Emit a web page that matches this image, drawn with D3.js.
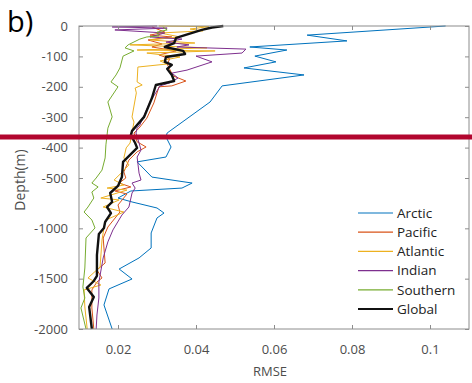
<!DOCTYPE html>
<html lang="en">

<head>
    <meta charset="UTF-8" />
    <title>RMSE by depth</title>
    <script src="https://d3js.org/d3.v7.js"></script>
    <style>
        body { margin: 0; background: white; }
        text { font-family: "Open Sans", sans-serif; }
    </style>
</head>

<body>
    <script>
        var w = 472;
        var h = 383;

        // depth (m) and RMSE for each basin
        var arcticDepth = [0, -30, -49, -69, -79, -99, -118, -138, -161, -197, -250, -352, -365, -398, -431, -447, -497, -550, -600, -629, -699, -738, -798, -848, -897, -1046, -1195, -1294, -1404, -1503, -1602, -1761, -2000];
        var arcticRmse = [0.104, 0.0685, 0.0787, 0.0538, 0.0633, 0.0551, 0.0605, 0.0523, 0.0677, 0.0467, 0.0436, 0.0326, 0.0323, 0.0336, 0.0323, 0.0249, 0.0287, 0.039, 0.0364, 0.0233, 0.020, 0.0236, 0.030, 0.0318, 0.030, 0.0285, 0.0285, 0.0254, 0.0203, 0.0236, 0.0177, 0.0164, 0.0185];

        var pacificDepth = [-3, -20, -30, -36, -46, -59, -69, -82, -95, -108, -125, -164, -181, -197, -200, -253, -303, -336, -352, -381, -398, -414, -441, -480, -500, -550, -589, -629, -659, -768, -838, -987, -1096, -1344, -1414, -1493, -1533, -1612, -1791, -2000];
        var pacificRmse = [0.0287, 0.032, 0.0282, 0.0338, 0.0277, 0.0313, 0.0287, 0.0349, 0.0305, 0.0333, 0.0326, 0.0341, 0.0374, 0.0338, 0.0305, 0.0292, 0.0274, 0.0254, 0.0241, 0.0249, 0.0272, 0.0249, 0.0228, 0.0215, 0.022, 0.0203, 0.0233, 0.0192, 0.0223, 0.020, 0.0205, 0.0174, 0.0162, 0.0167, 0.0146, 0.0159, 0.0146, 0.0133, 0.0133, 0.0138];

        var atlanticDepth = [0, -2, -10, -16, -23, -36, -46, -56, -62, -72, -79, -82, -89, -102, -115, -125, -135, -184, -194, -204, -220, -299, -316, -349, -385, -401, -434, -457, -484, -520, -570, -600, -620, -699, -718, -788, -838, -917, -996, -1115, -1384, -1493, -1563, -1612, -1781, -2000];
        var atlanticRmse = [0.0305, 0.0433, 0.0385, 0.0418, 0.0308, 0.0359, 0.0282, 0.0397, 0.0231, 0.0428, 0.0249, 0.0449, 0.0274, 0.0359, 0.0308, 0.0326, 0.0251, 0.0249, 0.0262, 0.0244, 0.0247, 0.0236, 0.0241, 0.0236, 0.0231, 0.0221, 0.0215, 0.0228, 0.0208, 0.019, 0.0215, 0.0172, 0.0223, 0.0156, 0.0203, 0.0162, 0.0215, 0.0169, 0.0164, 0.0159, 0.0154, 0.0123, 0.0156, 0.0113, 0.0115, 0.0121];

        var indianDepth = [0, -3, -7, -13, -23, -36, -43, -53, -62, -69, -76, -89, -99, -118, -145, -155, -171, -187, -197, -250, -326, -336, -352, -385, -408, -431, -484, -520, -550, -600, -649, -788, -868, -1016, -1135, -1294, -1533, -1692, -1861, -2000];
        var indianRmse = [0.030, 0.0185, 0.0326, 0.0192, 0.032, 0.0282, 0.0364, 0.0323, 0.0382, 0.0351, 0.0528, 0.0518, 0.040, 0.0441, 0.0377, 0.0338, 0.0354, 0.0333, 0.0308, 0.0282, 0.0256, 0.0249, 0.0246, 0.0254, 0.0259, 0.0249, 0.0254, 0.0259, 0.0236, 0.0244, 0.0236, 0.0228, 0.021, 0.0187, 0.0174, 0.0162, 0.0151, 0.0151, 0.0146, 0.0144];

        var southernDepth = [-3, -13, -20, -33, -36, -43, -62, -72, -82, -99, -138, -161, -184, -200, -250, -299, -336, -391, -434, -474, -500, -550, -589, -639, -699, -788, -838, -917, -996, -1096, -1394, -1582, -1692, -1791, -2000];
        var southernRmse = [0.0315, 0.0326, 0.030, 0.0305, 0.0274, 0.0256, 0.0226, 0.0218, 0.0241, 0.0213, 0.0205, 0.0195, 0.0182, 0.020, 0.0174, 0.0185, 0.0174, 0.0169, 0.0167, 0.0159, 0.0144, 0.0133, 0.0149, 0.0133, 0.0138, 0.0123, 0.0113, 0.0133, 0.0141, 0.0118, 0.0115, 0.011, 0.0115, 0.0105, 0.0118];

        var globalDepth = [0, -5, -13, -26, -39, -56, -69, -82, -92, -102, -118, -128, -141, -161, -181, -194, -237, -299, -345, -359, -385, -401, -447, -497, -579, -649, -738, -788, -848, -937, -996, -1056, -1265, -1473, -1523, -1592, -1682, -1781, -2000];
        var globalRmse = [0.047, 0.0441, 0.0415, 0.0382, 0.0349, 0.0344, 0.032, 0.0367, 0.0372, 0.0323, 0.032, 0.0338, 0.0326, 0.0338, 0.0344, 0.0297, 0.0287, 0.0267, 0.0236, 0.0233, 0.0244, 0.0249, 0.0213, 0.021, 0.020, 0.018, 0.0185, 0.0172, 0.0182, 0.0167, 0.0164, 0.0151, 0.0146, 0.0146, 0.0138, 0.012, 0.0138, 0.0126, 0.0133];

        var seriesNames = ["Arctic", "Pacific", "Atlantic", "Indian", "Southern", "Global"];
        var seriesColors = ["#0072BD", "#D95319", "#EDB120", "#7E2F8E", "#77AC30", "#111111"];

        var xTicks = [0.02, 0.04, 0.06, 0.08, 0.1];
        var xTickLabels = ["0.02", "0.04", "0.06", "0.08", "0.1"];
        var yTicks = [0, -100, -200, -300, -400, -500, -1000, -1500, -2000];
        var markDepth = -365;

        var series = [
            { depth: arcticDepth, rmse: arcticRmse },
            { depth: pacificDepth, rmse: pacificRmse },
            { depth: atlanticDepth, rmse: atlanticRmse },
            { depth: indianDepth, rmse: indianRmse },
            { depth: southernDepth, rmse: southernRmse },
            { depth: globalDepth, rmse: globalRmse }
        ].map(function (s, i) {
            return {
                name: seriesNames[i],
                color: seriesColors[i],
                points: s.depth.map(function (d, j) { return [s.rmse[j], d]; })
            };
        });

        // plot box (window.top is read-only, so no "top" here)
        var boxLeft = 79, boxRight = 469, boxTop = 26, boxBottom = 329;
        var axisGrey = "#8c8c8c";
        var labelGrey = "#4d4d4d";

        var svg = d3.select("body")
            .append("svg")
            .attr("width", w)
            .attr("height", h);

        var xScale = d3.scaleLinear()
            .domain([0.01, 0.11])
            .range([boxLeft, boxRight]);

        // upper 500 m is stretched
        var yScale = d3.scaleLinear()
            .domain([-2000, -500, 0])
            .range([boxBottom, 178, boxTop]);

        // lines
        var line = d3.line()
            .x(function (d) { return xScale(d[0]); })
            .y(function (d) { return yScale(d[1]); });

        svg.append("g")
            .selectAll("path")
            .data(series)
            .enter()
            .append("path")
            .attr("d", function (d) { return line(d.points); })
            .attr("fill", "none")
            .attr("stroke", function (d) { return d.color; })
            .attr("stroke-width", function (d) { return d.name == "Global" ? 2.4 : 1; })
            .attr("stroke-linejoin", "round");

        // axes box
        svg.append("rect")
            .attr("x", boxLeft)
            .attr("y", boxTop)
            .attr("width", boxRight - boxLeft)
            .attr("height", boxBottom - boxTop)
            .attr("fill", "none")
            .attr("stroke", axisGrey)
            .attr("stroke-width", 1);

        var xAxis = svg.append("g")
            .attr("transform", "translate(0," + boxBottom + ")")
            .call(d3.axisBottom(xScale)
                .tickValues(xTicks)
                .tickFormat(function (d, i) { return xTickLabels[i]; })
                .tickSize(-4)
                .tickPadding(16));

        var xAxisTop = svg.append("g")
            .attr("transform", "translate(0," + boxTop + ")")
            .call(d3.axisTop(xScale).tickValues(xTicks).tickFormat("").tickSize(-4));

        var yAxis = svg.append("g")
            .attr("transform", "translate(" + boxLeft + ",0)")
            .call(d3.axisLeft(yScale)
                .tickValues(yTicks)
                .tickFormat(function (d) { return d == 0 ? "0" : "-" + Math.abs(d); })
                .tickSize(-4)
                .tickPadding(11));

        var yAxisRight = svg.append("g")
            .attr("transform", "translate(" + boxRight + ",0)")
            .call(d3.axisRight(yScale).tickValues(yTicks).tickFormat("").tickSize(-4));

        [xAxis, xAxisTop, yAxis, yAxisRight].forEach(function (g) {
            g.select(".domain").remove();
            g.selectAll(".tick line").attr("stroke", axisGrey);
            g.selectAll("text")
                .attr("fill", labelGrey)
                .style("font-size", "13px")
                .style("font-family", "'Open Sans', sans-serif");
        });

        // axis titles
        svg.append("text")
            .attr("x", (boxLeft + boxRight) / 2 - 4)
            .attr("y", 376)
            .attr("text-anchor", "middle")
            .attr("fill", labelGrey)
            .style("font-size", "13px")
            .text("RMSE");

        svg.append("text")
            .attr("transform", "translate(25," + 180 + ") rotate(-90)")
            .attr("text-anchor", "middle")
            .attr("fill", labelGrey)
            .style("font-size", "14px")
            .text("Depth(m)");

        svg.append("text")
            .attr("x", 7)
            .attr("y", 32)
            .attr("fill", "black")
            .style("font-size", "29px")
            .text("b)");

        // legend
        var legend = svg.append("g")
            .selectAll("g")
            .data(series)
            .enter()
            .append("g")
            .attr("transform", function (d, i) { return "translate(358," + (213 + i * 19.2) + ")"; });

        legend.append("line")
            .attr("x1", 0)
            .attr("x2", 35)
            .attr("stroke", function (d) { return d.color; })
            .attr("stroke-width", function (d) { return d.name == "Global" ? 2.2 : 1.2; });

        legend.append("text")
            .attr("x", 39)
            .attr("dy", "0.35em")
            .attr("fill", "#222")
            .style("font-size", "13.5px")
            .text(function (d) { return d.name; });

        // red marker line across the whole figure
        svg.append("line")
            .attr("x1", 0)
            .attr("x2", w)
            .attr("y1", yScale(markDepth))
            .attr("y2", yScale(markDepth))
            .attr("stroke", "#b2062e")
            .attr("stroke-width", 5);
    </script>
</body>

</html>
